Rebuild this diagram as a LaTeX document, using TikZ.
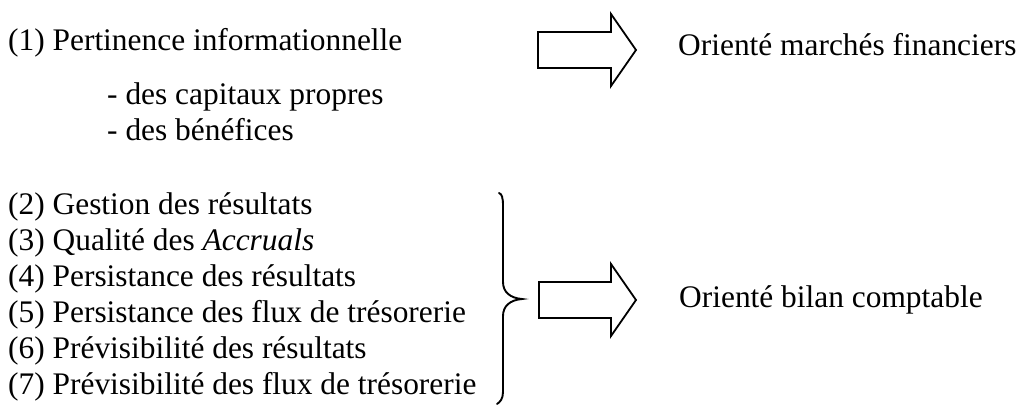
\documentclass[tikz,border=0pt]{standalone}
\usepackage{fontspec}
\setmainfont{Liberation Serif}
\begin{document}
\begin{tikzpicture}[x=1pt,y=-1pt,
  txt/.style={anchor=base west,inner sep=0pt,font=\fontsize{31.4}{36}\selectfont},
  blockarrow/.style={draw,line width=1.8pt,line join=miter},
  bracepath/.style={draw,line width=1.9pt,line cap=round}]
\useasboundingbox (0,0) rectangle (1027,405);
% top group
\node[txt] (p1) at (8,50) {(1) Pertinence informationnelle};
\node[txt] (p1a) at (107,104) {- des capitaux propres};
\node[txt] (p1b) at (107,140) {- des bénéfices};
\node[txt] (r1) at (678,55) {Orienté marchés financiers};
% list
\node[txt] (p2) at (8,214) {(2) Gestion des résultats};
\node[txt] (p3) at (8,250) {(3) Qualité des \textit{Accruals}};
\node[txt] (p4) at (8,286) {(4) Persistance des résultats};
\node[txt] (p5) at (8,322) {(5) Persistance des flux de trésorerie};
\node[txt] (p6) at (8,358) {(6) Prévisibilité des résultats};
\node[txt] (p7) at (8,394) {(7) Prévisibilité des flux de trésorerie};
\node[txt] (r2) at (679,307) {Orienté bilan comptable};
% block arrows
\path[blockarrow] (538,32) -- (611,32) -- (611,14) -- (636,50) -- (611,86) -- (611,68) -- (538,68) -- cycle;
\path[blockarrow] (539,282) -- (611,282) -- (611,264) -- (636,300) -- (611,336) -- (611,318) -- (539,318) -- cycle;
% brace
\path[bracepath] (499,193) .. controls (502,194) and (503,198) .. (503,206) -- (503,282)
  .. controls (503,292) and (510,298) .. (522,299)
  .. controls (510,300) and (503,306) .. (503,316) -- (503,392)
  .. controls (503,399) and (500,402) .. (497,404);
\end{tikzpicture}
\end{document}
